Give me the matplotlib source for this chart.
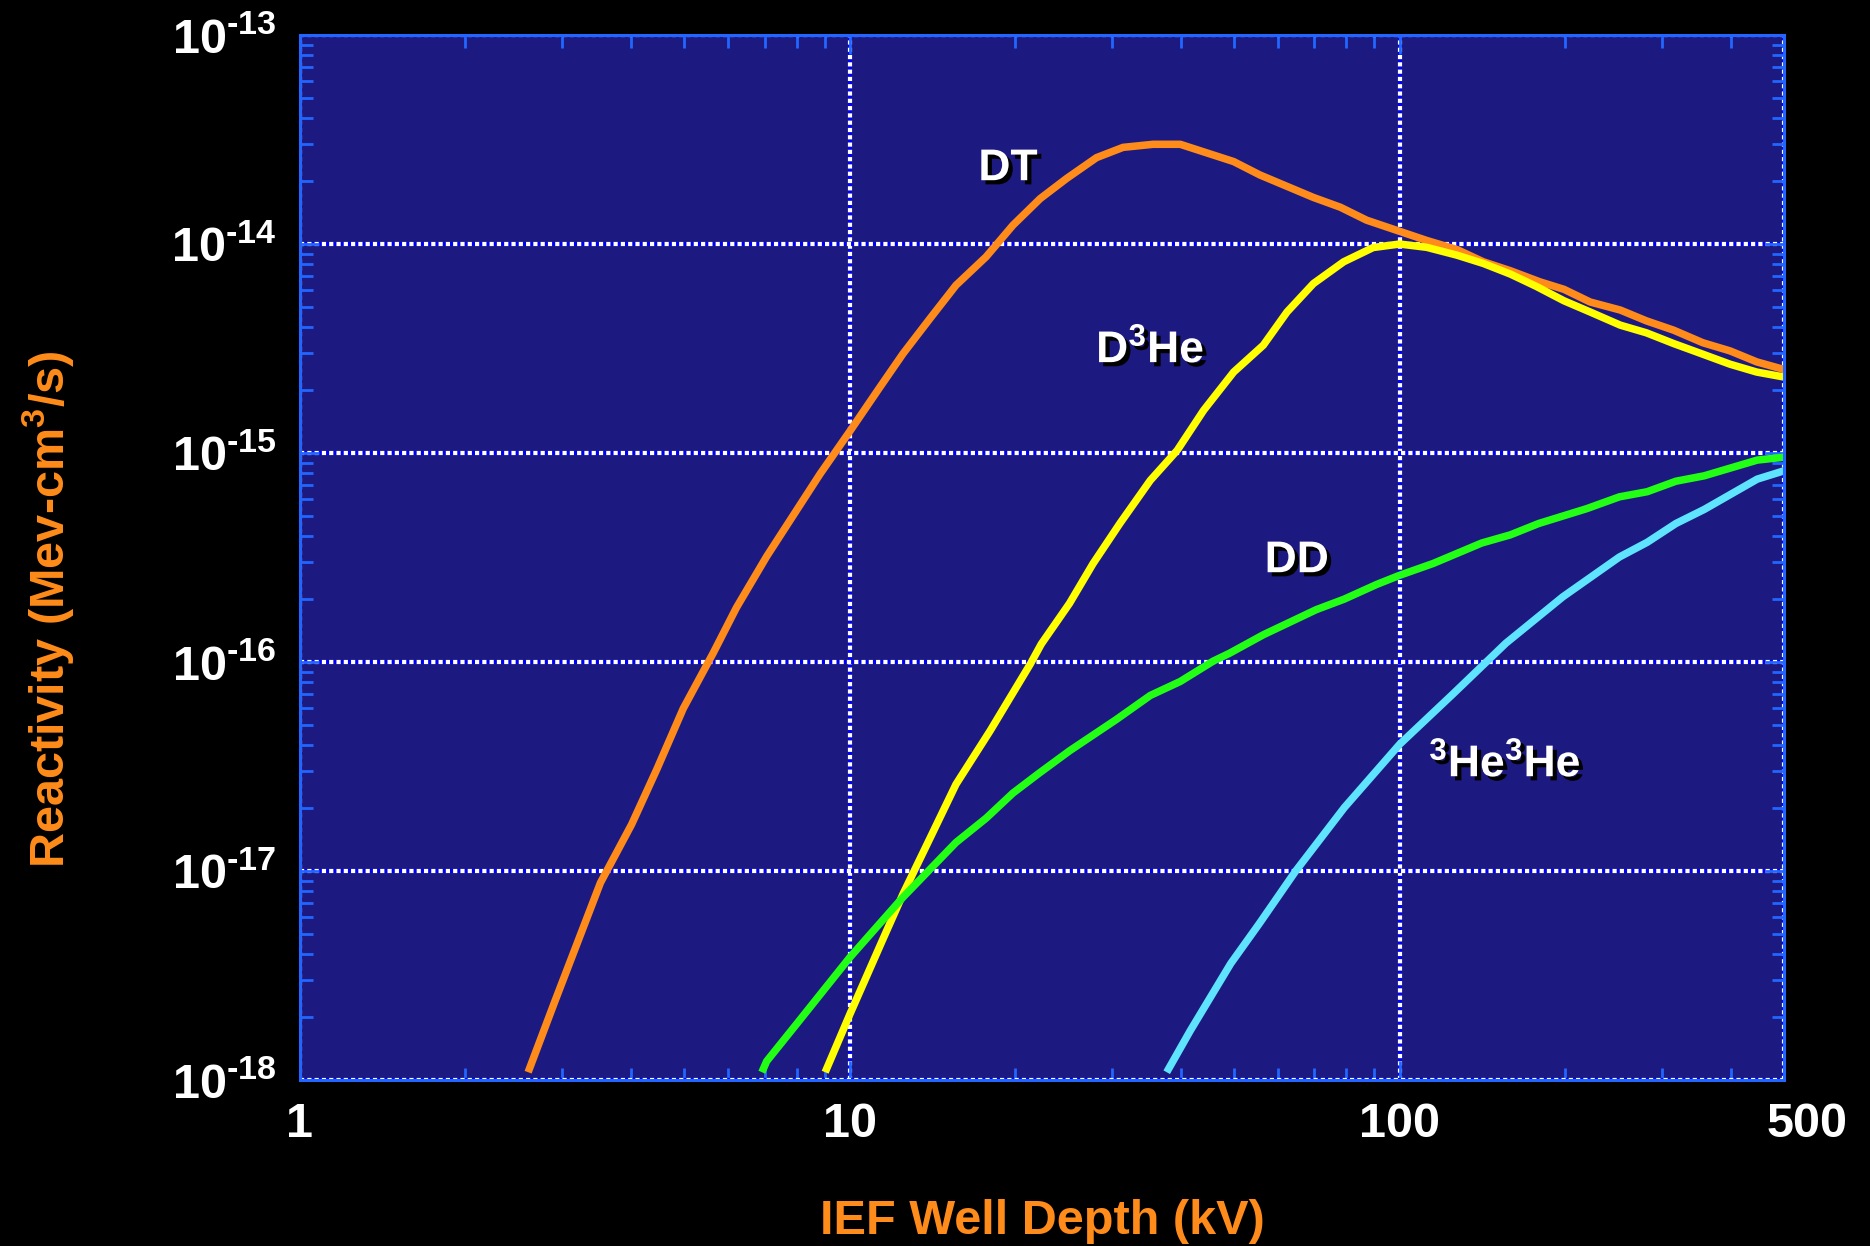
import matplotlib
matplotlib.use("Agg")
import matplotlib.pyplot as plt
import matplotlib.patheffects as pe
import matplotlib.transforms as mtransforms
from matplotlib.ticker import LogLocator, NullFormatter

plt.rcParams['font.family'] = ['Liberation Sans', 'DejaVu Sans']
plt.rcParams['font.weight'] = 'bold'
plt.rcParams['mathtext.fontset'] = 'custom'
plt.rcParams['mathtext.rm'] = 'Liberation Sans:bold'
plt.rcParams['mathtext.it'] = 'Liberation Sans:bold'
plt.rcParams['mathtext.bf'] = 'Liberation Sans:bold'

# well depth (kV) and reactivity
dt_kv = [2.60, 2.91, 3.52, 4.01, 4.46, 4.98, 5.65, 6.22, 7.06, 8.83, 10.0, 11.35, 12.5,
         14.0, 15.6, 17.7, 19.8, 22.2, 24.8, 28.1, 31.4, 35.6, 39.9, 49.9, 55.7, 69.7,
         78.0, 87.1, 100, 112, 127, 142, 159, 180, 199, 222, 252, 281, 315, 356, 399,
         446, 500]
dt_r = [1.09e-18, 2.39e-18, 8.79e-18, 1.67e-17, 3.08e-17, 6.00e-17, 1.11e-16, 1.82e-16,
        3.20e-16, 7.94e-16, 1.27e-15, 2.07e-15, 2.99e-15, 4.41e-15, 6.35e-15, 8.69e-15,
        1.23e-14, 1.65e-14, 2.06e-14, 2.59e-14, 2.90e-14, 3.00e-14, 3.00e-14, 2.48e-14,
        2.14e-14, 1.67e-14, 1.50e-14, 1.30e-14, 1.15e-14, 1.04e-14, 9.42e-15, 8.22e-15,
        7.45e-15, 6.59e-15, 6.07e-15, 5.28e-15, 4.83e-15, 4.29e-15, 3.87e-15, 3.37e-15,
        3.08e-15, 2.73e-15, 2.51e-15]

dhe_kv = [9.02, 10.0, 11.5, 12.5, 14.0, 15.6, 18.0, 21.3, 22.3, 25.1, 27.7, 31.0,
          35.2, 39.4, 44.0, 49.9, 56.5, 62.4, 69.7, 79.1, 89.5, 100, 112, 127, 142, 159,
          177, 199, 222, 252, 281, 315, 356, 399, 446, 500]
dhe_r = [1.09e-18, 2.06e-18, 4.75e-18, 7.78e-18, 1.44e-17, 2.60e-17, 4.69e-17,
         9.79e-17, 1.22e-16, 1.91e-16, 2.96e-16, 4.61e-16, 7.40e-16, 1.03e-15, 1.60e-15,
         2.44e-15, 3.28e-15, 4.73e-15, 6.47e-15, 8.22e-15, 9.62e-15, 1.00e-14, 9.64e-15,
         8.85e-15, 8.07e-15, 7.18e-15, 6.28e-15, 5.35e-15, 4.73e-15, 4.09e-15, 3.76e-15,
         3.34e-15, 2.97e-15, 2.66e-15, 2.44e-15, 2.31e-15]

dd_kv = [6.92, 7.06, 8.05, 10.0, 12.5, 15.6, 17.7, 19.8, 22.1, 25.1, 30.5, 35.2, 39.9,
         45.8, 49.0, 56.5, 70.5, 79.3, 90.8, 100, 115, 141, 159, 179, 219, 251, 282, 318,
         358, 447, 500]
dd_r = [1.09e-18, 1.23e-18, 1.89e-18, 3.86e-18, 7.50e-18, 1.37e-17, 1.79e-17, 2.36e-17,
        2.94e-17, 3.76e-17, 5.30e-17, 6.92e-17, 8.07e-17, 1.01e-16, 1.10e-16, 1.35e-16,
        1.78e-16, 2.00e-16, 2.35e-16, 2.60e-16, 2.96e-16, 3.71e-16, 4.06e-16, 4.60e-16,
        5.42e-16, 6.17e-16, 6.53e-16, 7.33e-16, 7.78e-16, 9.25e-16, 9.55e-16]

hehe_kv = [37.7, 41.6, 49.3, 55.6, 64.7, 79.3, 100, 125, 156, 198, 251, 282, 318, 358,
           447, 500]
hehe_r = [1.09e-18, 1.72e-18, 3.61e-18, 5.62e-18, 1.00e-17, 2.01e-17, 4.04e-17, 7.03e-17,
          1.23e-16, 2.05e-16, 3.18e-16, 3.74e-16, 4.60e-16, 5.37e-16, 7.50e-16, 8.22e-16]

x_ticks = [1, 10, 100, 500]
x_ticklabels = ['1', '10', '100', '500']
y_ticks = [1e-18, 1e-17, 1e-16, 1e-15, 1e-14, 1e-13]
y_ticklabels = ['10$^{\\text{-18}}$', '10$^{\\text{-17}}$', '10$^{\\text{-16}}$',
                '10$^{\\text{-15}}$', '10$^{\\text{-14}}$', '10$^{\\text{-13}}$']

# curve names and where they are written (kV, reactivity at baseline)
names = ['DT', 'D$^3$He', 'DD', '$^3$He$^3$He']
name_kv = [19.4, 35.2, 65.0, 155.5]
name_r = [2.02e-14, 2.72e-15, 2.69e-16, 2.84e-17]

orange = '#ff8c1a'
edge = '#2266ff'

fig = plt.figure(figsize=(18.7, 12.46), dpi=100, facecolor='black')
ax = fig.add_axes([0.1604, 0.1332, 0.7936, 0.8387])
ax.set_facecolor('#1c1a80')

ax.plot(dt_kv, dt_r, color=orange, lw=5.4, solid_capstyle='butt')
ax.plot(dhe_kv, dhe_r, color='#ffff00', lw=5.4, solid_capstyle='butt')
ax.plot(dd_kv, dd_r, color='#22ff14', lw=5.4, solid_capstyle='butt')
ax.plot(hehe_kv, hehe_r, color='#5ee4ff', lw=5.4, solid_capstyle='butt')

ax.set_xscale('log')
ax.set_yscale('log')
ax.set_xlim(1, 500)
ax.set_ylim(1e-18, 1e-13)

ax.set_xticks(x_ticks, labels=x_ticklabels)
ax.set_yticks(y_ticks, labels=y_ticklabels)
ax.xaxis.set_minor_locator(LogLocator(base=10, subs=range(2, 10), numticks=20))
ax.yaxis.set_minor_locator(LogLocator(base=10, subs=range(2, 10), numticks=20))
ax.xaxis.set_minor_formatter(NullFormatter())
ax.yaxis.set_minor_formatter(NullFormatter())

ax.grid(True, which='major', color='white', linestyle=(0, (1.0, 0.75)), lw=3.0,
        gapcolor='#0000ff')

ax.tick_params(which='both', direction='in', top=True, right=True, color=edge,
               labelcolor='white', labelsize=35)
ax.tick_params(which='major', length=14, width=2)
ax.tick_params(which='minor', length=9, width=2)
ax.tick_params(axis='x', pad=16)
ax.tick_params(axis='y', pad=17)

for sp in ax.spines.values():
    sp.set_color(edge)
    sp.set_linewidth(2.2)

# the 500 label sits a bit right of its tick
for lab in ax.get_xticklabels():
    if lab.get_text() == '500':
        lab.set_transform(lab.get_transform() +
                          mtransforms.ScaledTranslation(0.23, 0, fig.dpi_scale_trans))

ax.set_xlabel('IEF Well Depth (kV)', color=orange, fontsize=35, fontweight='bold')
ax.xaxis.set_label_coords(0.5, -0.135)
ax.xaxis.label.set_va('center')
ax.set_ylabel('Reactivity (Mev-cm$^3$/s)', color=orange, fontsize=35, fontweight='bold')
ax.yaxis.set_label_coords(-0.170, 0.451)
ax.yaxis.label.set_va('center')

for name, kv, r in zip(names, name_kv, name_r):
    ax.text(kv, r, name, color='white', fontsize=32, fontweight='bold',
            ha='center', va='baseline',
            path_effects=[pe.withSimplePatchShadow(offset=(3, -3), shadow_rgbFace='black',
                                                   alpha=1.0)])

fig.savefig('out.png', dpi=100, facecolor='black')
